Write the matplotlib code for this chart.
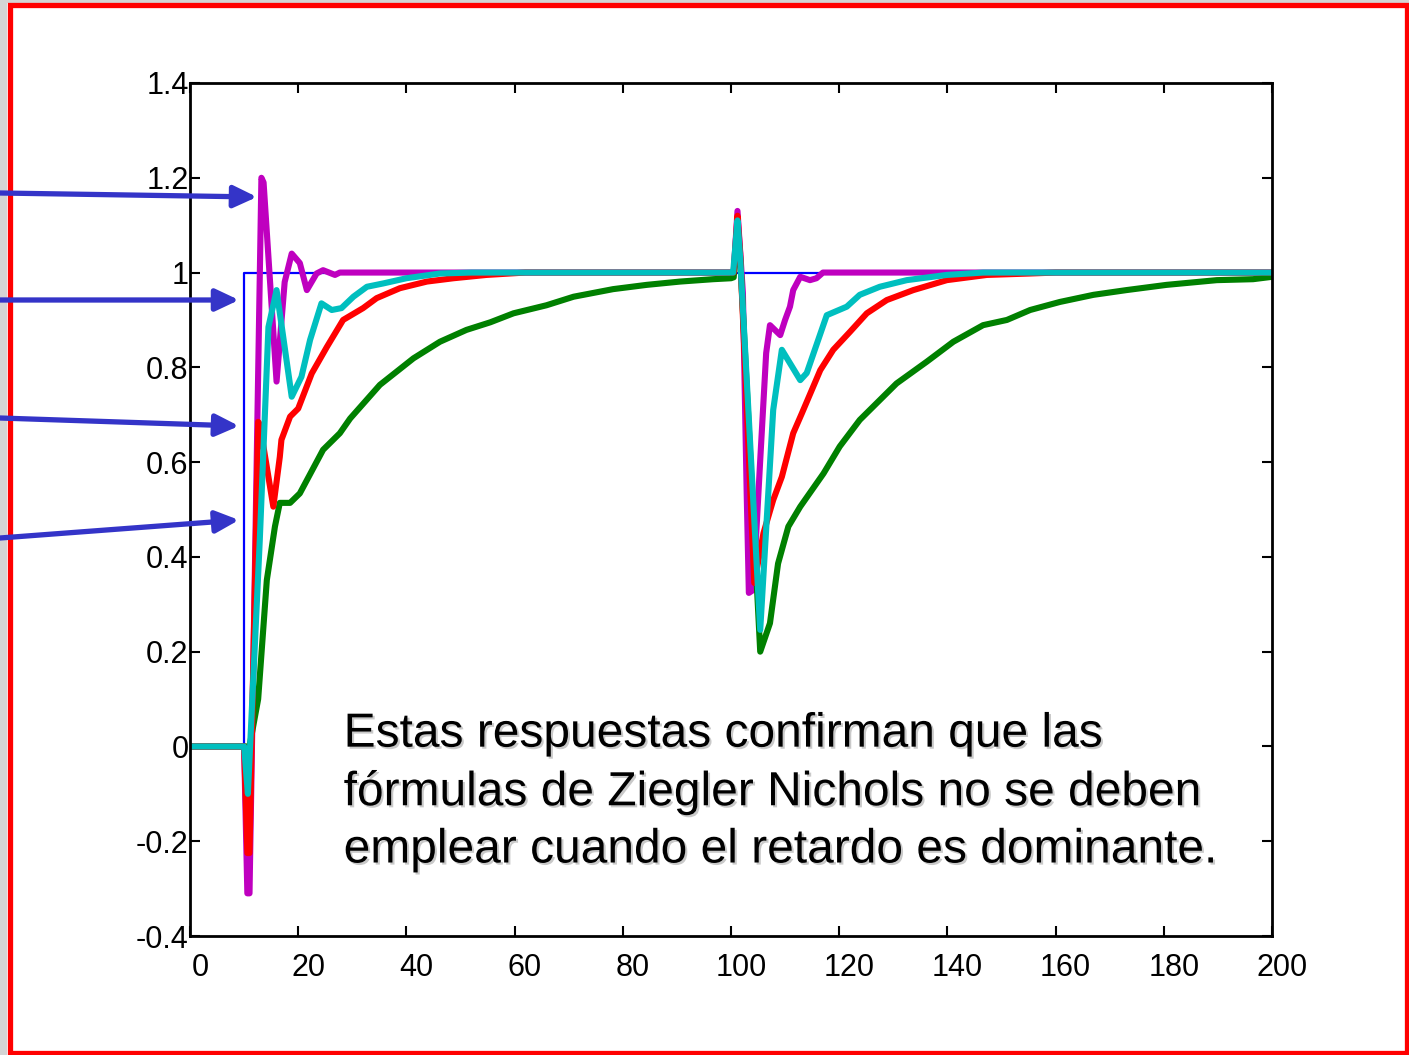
import matplotlib
matplotlib.use("Agg")
import matplotlib.pyplot as plt
import matplotlib.patheffects as pe
from matplotlib.patches import Rectangle, FancyArrowPatch
from matplotlib.transforms import ScaledTranslation

plt.rcParams['font.family'] = ['Liberation Sans', 'DejaVu Sans']

# Setpoint (step at t=10)
t_ref = [0, 10, 10, 200]
y_ref = [0, 0, 1, 1]

# Magenta response
t_mag = [0, 10, 10.6, 11.0, 13.2, 13.6, 16.0, 17.5, 18.8, 20.3, 21.6, 23.4, 24.6, 26.8,
         27.7, 100, 100.5, 101.2, 102.2, 102.9, 103.3, 104.1, 105.4, 106.5, 107.2, 109.1,
         110.0, 110.9, 111.5, 112.8, 114.6, 115.8, 117.0, 200]
y_mag = [0, 0, -0.31, -0.31, 1.2, 1.19, 0.77, 0.98, 1.04, 1.02, 0.963, 0.998, 1.005, 0.995,
         1.0, 1.0, 1.0, 1.13, 0.957, 0.535, 0.324, 0.33, 0.604, 0.83, 0.889, 0.868,
         0.90, 0.928, 0.963, 0.991, 0.984, 0.988, 1.0, 1.0]

# Green response
t_grn = [0, 11, 12.6, 14.2, 15.7, 16.6, 18.5, 20.3, 24.6, 27.7, 29.6, 35.1, 41.3, 46.2,
         51.1, 55.5, 59.8, 65.9, 70.9, 78.2, 84.4, 90.6, 96.7, 100, 100.5, 101.2, 101.7,
         105.4, 107.2, 108.7, 110.6, 112.8, 117.1, 120.1, 123.8, 130.6, 136.2, 141.1, 146.6,
         151.0, 155.3, 160.8, 167.0, 173.1, 180.5, 189.8, 196.5, 200]
y_grn = [0, 0, 0.10, 0.351, 0.464, 0.514, 0.514, 0.534, 0.626, 0.661, 0.692, 0.763, 0.819,
         0.854, 0.879, 0.895, 0.914, 0.931, 0.949, 0.965, 0.974, 0.981, 0.986, 0.988, 0.99,
         1.10, 1.03, 0.20, 0.26, 0.386, 0.464, 0.506, 0.576, 0.633, 0.689, 0.766, 0.812,
         0.854, 0.889, 0.900, 0.921, 0.938, 0.953, 0.963, 0.974, 0.984, 0.986, 0.991]

# Red response
t_red = [0, 10, 10.6, 11.0, 12.6, 12.9, 15.4, 16.6, 16.9, 18.5, 20.0, 22.5, 25.3, 28.3,
         32.0, 34.5, 38.8, 43.8, 48.7, 54.8, 62.0, 100, 100.5, 101.2, 101.7, 104.3, 106.0,
         107.8, 109.4, 111.5, 113.1, 116.5, 118.9, 122.0, 125.1, 128.8, 133.7, 139.9, 147.3,
         155.3, 160, 200]
y_red = [0, 0, -0.225, -0.225, 0.685, 0.68, 0.506, 0.611, 0.647, 0.696, 0.713, 0.787,
         0.843, 0.900, 0.925, 0.946, 0.967, 0.981, 0.988, 0.995, 1.0, 1.0, 1.0, 1.12, 1.04,
         0.345, 0.45, 0.52, 0.569, 0.661, 0.703, 0.794, 0.837, 0.875, 0.914, 0.942, 0.963,
         0.984, 0.995, 0.998, 1.0, 1.0]

# Cyan response
t_cyn = [0, 10, 10.7, 12.9, 14.5, 16.0, 18.8, 20.6, 22.2, 24.3, 26.2, 28.0, 30.2, 32.7,
         35.7, 40.0, 46.2, 52.0, 100, 100.4, 101.2, 101.7, 105.4, 107.8, 109.4, 112.8,
         114.0, 117.7, 121.4, 123.8, 127.5, 132.5, 139.9, 146.6, 200]
y_cyn = [0, 0, -0.10, 0.436, 0.885, 0.963, 0.738, 0.78, 0.858, 0.935, 0.921, 0.925, 0.949,
         0.970, 0.977, 0.988, 0.998, 1.0, 1.0, 1.0, 1.11, 1.03, 0.246, 0.71, 0.837, 0.773,
         0.788, 0.910, 0.928, 0.953, 0.970, 0.984, 0.995, 1.0, 1.0]

x_ticks = list(range(0, 201, 20))
y_ticks = [-0.4, -0.2, 0, 0.2, 0.4, 0.6, 0.8, 1, 1.2, 1.4]
y_labels = ['-0.4', '-0.2', '0', '0.2', '0.4', '0.6', '0.8', '1', '1.2', '1.4']

note = ("Estas respuestas confirman que las\n"
        "fórmulas de Ziegler Nichols no se deben\n"
        "emplear cuando el retardo es dominante.")

W, H = 1409, 1055
fig = plt.figure(figsize=(W / 100, H / 100), dpi=100)
fig.patch.set_facecolor('white')

# slide frame: grey strip on the left/top and the red border
fig.patches.append(Rectangle((0, 0), 7 / W, 1, transform=fig.transFigure,
                             facecolor='#d4d4d4', edgecolor='none', zorder=0))
fig.patches.append(Rectangle((0, 1 - 3 / H), 1, 3 / H, transform=fig.transFigure,
                             facecolor='#d4d4d4', edgecolor='none', zorder=0))
fig.patches.append(Rectangle((10 / W, 2.5 / H), (1407 - 10) / W, (1050 - 2.5) / H,
                             transform=fig.transFigure, facecolor='none',
                             edgecolor='#ff0000', lw=3.8, zorder=1))

ax = fig.add_axes([190 / W, (H - 936) / H, 1082 / W, 853 / H])
ax.plot(t_ref, y_ref, color='#0000ff', lw=1.6)
line_kw = dict(lw=4.4, solid_joinstyle='round', solid_capstyle='round')
ax.plot(t_mag, y_mag, color='#bf00bf', **line_kw)
ax.plot(t_grn, y_grn, color='#008000', **line_kw)
ax.plot(t_red, y_red, color='#ff0000', **line_kw)
ax.plot(t_cyn, y_cyn, color='#00bfbf', **line_kw)

ax.set_xlim(0, 200)
ax.set_ylim(-0.4, 1.4)
ax.set_xticks(x_ticks)
ax.set_yticks(y_ticks)
ax.set_yticklabels(y_labels)
ax.tick_params(direction='in', length=7, width=1.5, top=True, right=True,
               labelsize=22, colors='black')
ax.tick_params(axis='y', pad=1)
ax.tick_params(axis='x', pad=12)
for lab in ax.get_xticklabels():
    lab.set_transform(lab.get_transform() + ScaledTranslation(0.1, 0, fig.dpi_scale_trans))
for s in ax.spines.values():
    s.set_linewidth(2)

ax.text(0.142, 0.263, note, transform=ax.transAxes, fontsize=34.5, va='top', ha='left',
        linespacing=1.35, color='black',
        path_effects=[pe.SimplePatchShadow(offset=(1.5, -1.5), shadow_rgbFace='#888888',
                                           alpha=0.45), pe.Normal()])

# pointer arrows from the slide edge
arrows = [((0, 193), (257, 197)), ((0, 300), (239, 300)),
          ((0, 418), (239, 426)), ((0, 538), (239, 520))]
for (x0, y0), (x1, y1) in arrows:
    fig.add_artist(FancyArrowPatch(
        (x0 / W, 1 - y0 / H), (x1 / W, 1 - y1 / H), transform=fig.transFigure,
        arrowstyle='-|>,head_length=0.7,head_width=0.33', mutation_scale=20,
        color='#3434c8', lw=3.8, shrinkA=0, shrinkB=0, zorder=5))

fig.savefig('out.png', dpi=100)
